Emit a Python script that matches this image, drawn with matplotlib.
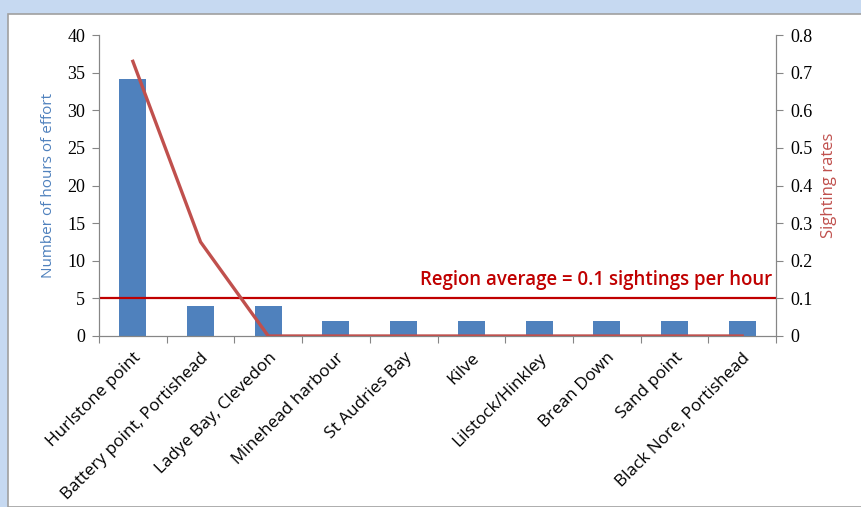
import matplotlib
matplotlib.use("Agg")
import matplotlib.pyplot as plt
from matplotlib.patches import Rectangle
import numpy as np

sites = ["Hurlstone point", "Battery point, Portishead", "Ladye Bay, Clevedon",
         "Minehead harbour", "St Audries Bay", "Kilve", "Lilstock/Hinkley",
         "Brean Down", "Sand point", "Black Nore, Portishead"]
effort_hours = [34.2, 4, 4, 2, 2, 2, 2, 2, 2, 2]
sighting_rates = [0.73, 0.25, 0, 0, 0, 0, 0, 0, 0, 0]
region_average = 0.1

bar_blue = "#4F81BD"
rate_red = "#C0504D"
avg_red = "#C00000"
grey = "#868686"

fig = plt.figure(figsize=(8.61, 5.07), dpi=100)
fig.patch.set_facecolor("#C6D9F1")
fig.patches.append(Rectangle((8 / 861, 0), 1.0, 1 - 14 / 507, transform=fig.transFigure,
                             facecolor="white", edgecolor="#A0A0A0", lw=1.2, zorder=-1))

ax = fig.add_axes([99 / 861, 1 - 336 / 507, (776 - 99) / 861, (336 - 35) / 507])
ax.set_facecolor("none")
x = np.arange(len(sites))
ax.bar(x, effort_hours, width=0.4, color=bar_blue, zorder=2)
ax.set_xlim(-0.5, len(sites) - 0.5)
ax.set_ylim(0, 40)
ax.set_yticks(range(0, 41, 5))
ax.set_ylabel("Number of hours of effort", color=bar_blue, fontsize=11,
              family="Open Sans", labelpad=8)

ax2 = ax.twinx()
ax2.plot(x, sighting_rates, color=rate_red, lw=2.4, zorder=3)
ax2.axhline(region_average, color=avg_red, lw=1.6)
ax2.text(len(sites) - 0.55, region_average + 0.022,
         f"Region average = {region_average} sightings per hour",
         color=avg_red, fontsize=13.4, fontweight="semibold", family="Open Sans",
         ha="right", va="bottom")
ax2.set_ylim(0, 0.8)
ax2.set_yticks(np.arange(0, 0.81, 0.1))
ax2.set_yticklabels(["0"] + [f"{v:.1f}" for v in np.arange(0.1, 0.81, 0.1)])
ax2.set_ylabel("Sighting rates", color=rate_red, fontsize=12,
               family="Open Sans", labelpad=6)

for a in (ax, ax2):
    for side in ("top",):
        a.spines[side].set_visible(False)
    for side in ("left", "right", "bottom"):
        a.spines[side].set_color(grey)
    a.tick_params(axis="y", colors=grey, labelcolor="black", labelsize=13,
                  length=5, width=0.8, pad=5)
    for lab in a.get_yticklabels():
        lab.set_family("Liberation Serif")

ax.set_xticks(x)
ax.set_xticklabels(sites, rotation=45, ha="right", rotation_mode="anchor",
                   fontsize=12.3, family="Open Sans")
ax.tick_params(axis="x", length=0, pad=10)
ax.set_xticks(np.arange(-0.5, len(sites), 1.0), minor=True)
ax.tick_params(axis="x", which="minor", length=5, color=grey, width=0.8)

fig.savefig("out.png", dpi=100, facecolor=fig.get_facecolor())
